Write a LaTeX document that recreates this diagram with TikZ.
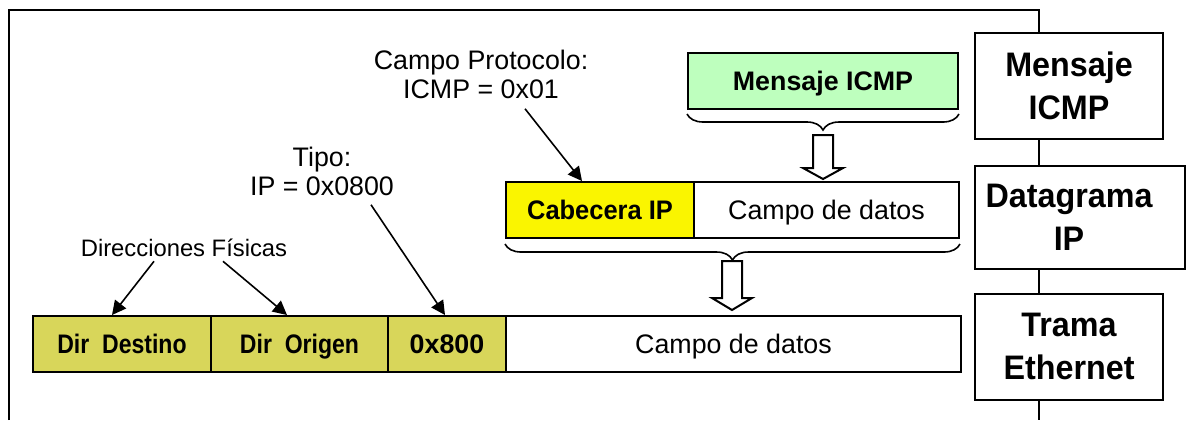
\documentclass[tikz,border=0pt]{standalone}
\usepackage{fontspec}
\setmainfont{Liberation Sans}
\newfontfamily\narrowsf[FakeStretch=0.86]{Liberation Sans}
\newfontfamily\layersf[FakeStretch=0.95]{Liberation Sans}
\usetikzlibrary{arrows.meta,decorations.pathreplacing}
\definecolor{olivefield}{RGB}{216,214,90}
\definecolor{ipyellow}{RGB}{250,245,0}
\definecolor{icmpgreen}{RGB}{190,255,190}

\begin{document}
\begin{tikzpicture}[x=0.5pt,y=-0.5pt,
    field/.style={draw,line width=1pt,minimum height=28pt,inner sep=0pt,text height=9.5pt,text depth=0pt,font=\fontsize{13.4}{15}\selectfont},
    layer/.style={draw,line width=1pt,fill=white,minimum width=94pt,minimum height=53pt,inner sep=0pt},
    layertext/.style={align=center,inner sep=0pt,font=\layersf\bfseries\fontsize{17}{21.5}\selectfont},
    note/.style={align=center,inner sep=1pt,font=\fontsize{13.4}{14.5}\selectfont},
    pointer/.style={line width=0.8pt,-{Triangle[length=7pt,width=7pt]}},
    hollow/.style={draw,line width=1pt,fill=white},
    under/.style={decorate,decoration={brace,mirror,amplitude=8pt},line width=0.8pt}]
\useasboundingbox (0,0) rectangle (1186,420);

% outer frame
\draw[line width=1pt] (9,420) -- (9,10) -- (1039,10) -- (1039,420);

% layers on the right
\node[layer] (lmsg) at (1069,86) {};
\node[layertext] at (lmsg) {Mensaje\\ICMP};
\node[layer,minimum width=105pt,minimum height=51.5pt] (ldat) at (1080,217.5) {};
\node[layertext] at (1069,217.5) {Datagrama\\IP};
\node[layer] (ltra) at (1069,346.5) {};
\node[layertext] at (ltra) {Trama\\Ethernet};

% trama ethernet
\node[field,fill=olivefield,minimum width=89pt] (dst) at (122,344) {\narrowsf\bfseries Dir\ \ Destino};
\node[field,fill=olivefield,minimum width=88.5pt] (org) at (299.5,344) {\narrowsf\bfseries Dir\ \ Origen};
\node[field,fill=olivefield,minimum width=59pt] (typ) at (447,344) {\bfseries 0x800};
\node[field,minimum width=227.5pt] (edat) at (733.5,344) {Campo de datos};

% datagrama ip
\node[field,fill=ipyellow,minimum width=94pt] (cab) at (600,210) {\layersf\bfseries Cabecera IP};
\node[field,minimum width=132.5pt] (idat) at (826.5,210) {Campo de datos};

% mensaje icmp
\node[field,fill=icmpgreen,minimum width=135pt] (icmp) at (823,81) {\bfseries Mensaje ICMP};

\draw[under] ([yshift=-2pt]icmp.south west) -- ([yshift=-2pt]icmp.south east);
\draw[under] ([yshift=-2.5pt]cab.south west) -- ([yshift=-2.5pt]idat.south east);
\draw[hollow] (icmp.south) ++(-10,25) -- ++(20,0) -- ++(0,33) -- ++(10,0) -- ++(-20,11) -- ++(-20,-11) -- ++(10,0) -- cycle;
\draw[hollow] (edat.north) ++(-11.5,-54) -- ++(20,0) -- ++(0,37) -- ++(10,0) -- ++(-20,12) -- ++(-20,-12) -- ++(10,0) -- cycle;

% labels
\node[note] (proto) at (481,74) {Campo Protocolo:\\ICMP = 0x01};
\node[note] (tipo) at (322,171) {Tipo:\\IP = 0x0800};
\node[note,font=\fontsize{11.9}{14}\selectfont] (dirs) at (184,248) {Direcciones Físicas};

\draw[pointer] ([xshift=22pt,yshift=-4pt]proto.south) -- ([xshift=38.5pt]cab.north west);
\draw[pointer] ([xshift=24.5pt,yshift=-3.5pt]tipo.south) -- ([xshift=29pt]typ.north west);
\draw[pointer] ([xshift=-15pt,yshift=-1pt]dirs.south) -- ([xshift=40pt]dst.north west);
\draw[pointer] ([xshift=19.5pt,yshift=-1pt]dirs.south) -- ([xshift=38.5pt]org.north west);

\end{tikzpicture}
\end{document}
